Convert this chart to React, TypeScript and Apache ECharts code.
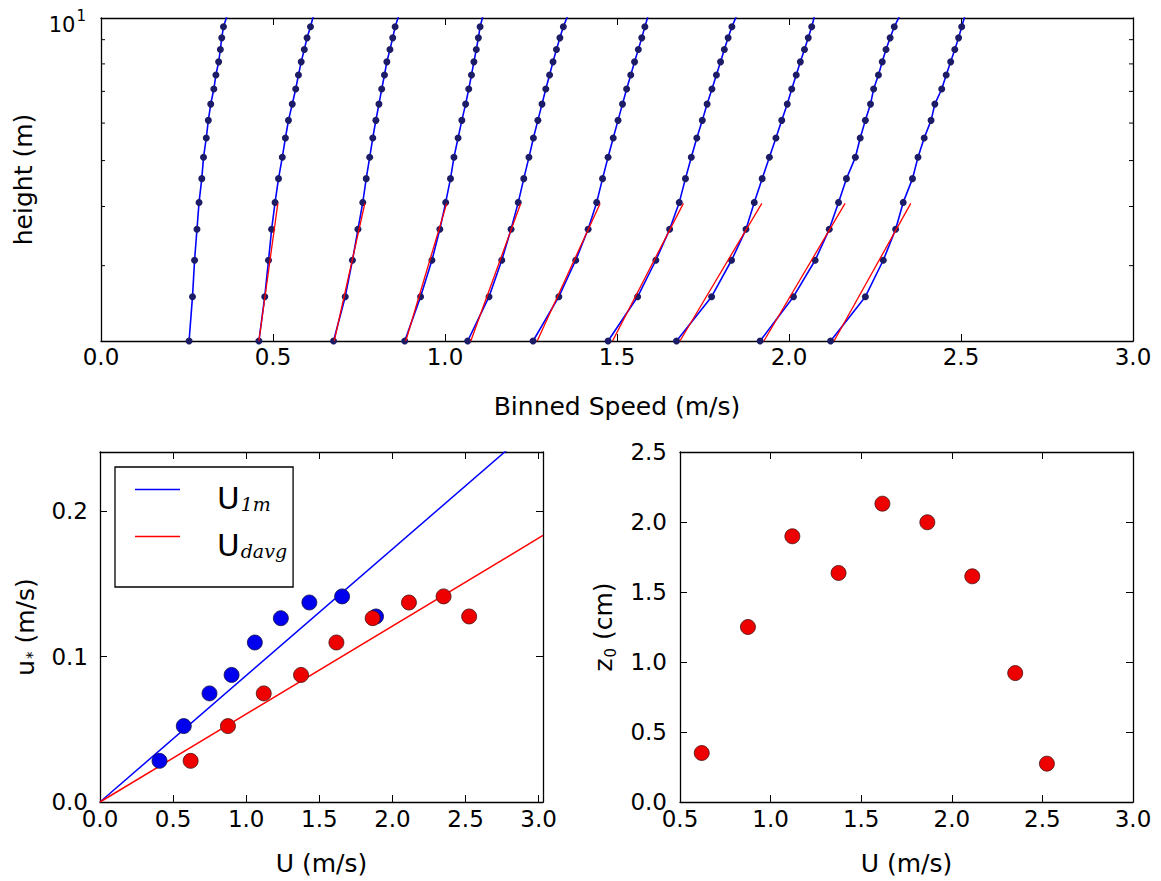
import React, { useEffect, useRef } from 'react';
import * as echarts from 'echarts';

// ---------- top panel: binned speed profiles ----------
const heights = [2.08, 2.58, 3.08, 3.58, 4.08, 4.58, 5.08, 5.58, 6.08, 6.58, 7.08, 7.58, 8.08, 8.58, 9.08, 9.58, 10.08];
const profile1 = [0.256, 0.266, 0.272, 0.279, 0.285, 0.293, 0.298, 0.306, 0.312, 0.319, 0.328, 0.334, 0.342, 0.347, 0.351, 0.356, 0.366];
const profile2 = [0.459, 0.476, 0.487, 0.496, 0.506, 0.516, 0.527, 0.536, 0.545, 0.556, 0.566, 0.574, 0.582, 0.591, 0.599, 0.609, 0.617];
const profile3 = [0.676, 0.710, 0.731, 0.747, 0.761, 0.771, 0.781, 0.790, 0.799, 0.808, 0.816, 0.824, 0.831, 0.840, 0.848, 0.855, 0.865];
const profile4 = [0.883, 0.929, 0.962, 0.985, 1.002, 1.016, 1.026, 1.038, 1.049, 1.060, 1.069, 1.077, 1.084, 1.091, 1.097, 1.102, 1.110];
const profile5 = [1.066, 1.128, 1.165, 1.192, 1.213, 1.229, 1.244, 1.257, 1.270, 1.282, 1.293, 1.304, 1.314, 1.324, 1.334, 1.344, 1.356];
const profile6 = [1.256, 1.331, 1.380, 1.416, 1.441, 1.458, 1.474, 1.489, 1.503, 1.516, 1.528, 1.540, 1.551, 1.562, 1.572, 1.581, 1.590];
const profile7 = [1.474, 1.560, 1.613, 1.653, 1.681, 1.699, 1.716, 1.732, 1.748, 1.762, 1.776, 1.789, 1.801, 1.812, 1.823, 1.834, 1.847];
const profile8 = [1.673, 1.775, 1.833, 1.875, 1.899, 1.922, 1.943, 1.962, 1.979, 1.995, 2.008, 2.021, 2.033, 2.045, 2.056, 2.066, 2.074];
const profile9 = [1.916, 2.013, 2.076, 2.117, 2.144, 2.167, 2.193, 2.207, 2.222, 2.237, 2.246, 2.260, 2.271, 2.282, 2.294, 2.306, 2.321];
const profile10 = [2.121, 2.222, 2.274, 2.310, 2.332, 2.359, 2.375, 2.393, 2.413, 2.424, 2.444, 2.457, 2.470, 2.482, 2.493, 2.502, 2.511];
const profiles = [profile1, profile2, profile3, profile4, profile5, profile6, profile7, profile8, profile9, profile10];

// log-law fits (profiles 2..10), straight lines between two heights
const fitHeights = [2.08, 4.06];
const fitStartSpeeds = [0.459, 0.678, 0.886, 1.075, 1.268, 1.487, 1.683, 1.927, 2.131];
const fitEndSpeeds = [0.514, 0.767, 1.005, 1.220, 1.451, 1.693, 1.921, 2.163, 2.354];

const heightMinorTicks = [3, 4, 5, 6, 7, 8, 9];

// ---------- bottom panels ----------
const uDepthAvg = [0.62, 0.875, 1.12, 1.375, 1.617, 1.865, 2.113, 2.35, 2.525];
const u1m = [0.407, 0.573, 0.749, 0.9, 1.059, 1.237, 1.432, 1.656, 1.888];
const uStar = [0.0283, 0.0522, 0.0747, 0.0874, 0.1097, 0.1264, 0.1372, 0.1414, 0.1276];
const z0cm = [0.35, 1.25, 1.898, 1.636, 2.131, 1.998, 1.612, 0.921, 0.274];

const fit1mU = [0, 2.8];
const fit1mUstar = [0, 0.2435];
const fitDavgU = [0, 3.03];
const fitDavgUstar = [0, 0.1833];

const FONT = 'DejaVu Sans';
const TXT = '#000';

const fmtStep = (step: number, digits: number) => (v: number) => {
  const k = Math.round(v / step);
  return Math.abs(v - k * step) < 1e-6 ? v.toFixed(digits) : '';
};

const frameLine = { show: true, onZero: false, lineStyle: { color: '#000', width: 1.3 } };
const tickIn = (len: number) => ({ show: true, inside: true, length: len, lineStyle: { color: '#000', width: 1 } });
const labelStyle = { fontSize: 23, fontFamily: FONT, color: TXT };
const nameStyle = { fontSize: 25, fontFamily: FONT, color: TXT };

export default function App() {
  const ref = useRef<HTMLDivElement>(null);

  useEffect(() => {
    if (!ref.current) return;
    const chart = echarts.init(ref.current, null, { renderer: 'svg' });

    const grids = [
      { left: 101, top: 18, right: 28, bottom: 540, outerBoundsMode: 'none' },
      { left: 100, top: 452, right: 618, bottom: 79, outerBoundsMode: 'none' },
      { left: 680, top: 452, right: 28, bottom: 79, outerBoundsMode: 'none' },
    ];

    const xAxis: any[] = [
      // grid 0
      {
        type: 'value', gridIndex: 0, min: 0, max: 3, interval: 0.5, position: 'bottom',
        axisLine: frameLine, axisTick: tickIn(7), splitLine: { show: false },
        axisLabel: { ...labelStyle, margin: 4, formatter: fmtStep(0.5, 1) },
        name: 'Binned Speed (m/s)', nameLocation: 'middle', nameGap: 53, nameTextStyle: nameStyle,
      },
      {
        type: 'value', gridIndex: 0, min: 0, max: 3, interval: 0.5, position: 'top',
        axisLine: frameLine, axisTick: tickIn(7), splitLine: { show: false }, axisLabel: { show: false },
      },
      // grid 1
      {
        type: 'value', gridIndex: 1, min: 0, max: 3.03, interval: 0.5, position: 'bottom',
        axisLine: frameLine, axisTick: tickIn(7), splitLine: { show: false },
        axisLabel: { ...labelStyle, margin: 5, formatter: fmtStep(0.5, 1) },
        name: 'U (m/s)', nameLocation: 'middle', nameGap: 49, nameTextStyle: nameStyle,
      },
      {
        type: 'value', gridIndex: 1, min: 0, max: 3.03, interval: 0.5, position: 'top',
        axisLine: frameLine, axisTick: tickIn(7), splitLine: { show: false }, axisLabel: { show: false },
      },
      // grid 2
      {
        type: 'value', gridIndex: 2, min: 0.5, max: 3, interval: 0.5, position: 'bottom',
        axisLine: frameLine, axisTick: tickIn(7), splitLine: { show: false },
        axisLabel: { ...labelStyle, margin: 5, formatter: fmtStep(0.5, 1) },
        name: 'U (m/s)', nameLocation: 'middle', nameGap: 49, nameTextStyle: nameStyle,
      },
      {
        type: 'value', gridIndex: 2, min: 0.5, max: 3, interval: 0.5, position: 'top',
        axisLine: frameLine, axisTick: tickIn(7), splitLine: { show: false }, axisLabel: { show: false },
      },
    ];

    const yAxis: any[] = [
      // grid 0 (log)
      {
        type: 'log', logBase: 10, gridIndex: 0, min: 2.08, max: 10, position: 'left',
        axisLine: frameLine, axisTick: { show: false }, splitLine: { show: false },
        axisLabel: {
          margin: 15,
          formatter: (v: number) => (Math.abs(v - 10) < 0.01 ? '{b|10}{s|1}' : ''),
          rich: {
            b: { fontSize: 21, fontFamily: FONT, color: TXT, verticalAlign: 'bottom' },
            s: { fontSize: 15, fontFamily: FONT, color: TXT, verticalAlign: 'bottom', padding: [8, 0, 12, 1] },
          },
        },
        name: 'height (m)', nameLocation: 'middle', nameGap: 65, nameRotate: 90, nameTextStyle: nameStyle,
      },
      {
        type: 'log', logBase: 10, gridIndex: 0, min: 2.08, max: 10, position: 'right',
        axisLine: frameLine, axisTick: { show: false }, splitLine: { show: false }, axisLabel: { show: false },
      },
      // grid 1
      {
        type: 'value', gridIndex: 1, min: 0, max: 0.2407, interval: 0.1, position: 'left',
        axisLine: frameLine, axisTick: tickIn(7), splitLine: { show: false },
        axisLabel: { ...labelStyle, margin: 12, formatter: fmtStep(0.1, 1) },
        name: '{a|u}{b|*}{a| (m/s)}', nameLocation: 'middle', nameGap: 60, nameRotate: 90,
        nameTextStyle: {
          ...nameStyle,
          rich: {
            a: { fontSize: 25, fontFamily: FONT, color: TXT, verticalAlign: 'top' },
            b: { fontSize: 15, fontFamily: FONT, color: TXT, verticalAlign: 'top', padding: [12, 0, 0, 1] },
          },
        },
      },
      {
        type: 'value', gridIndex: 1, min: 0, max: 0.2407, interval: 0.1, position: 'right',
        axisLine: frameLine, axisTick: tickIn(7), splitLine: { show: false }, axisLabel: { show: false },
      },
      // grid 2
      {
        type: 'value', gridIndex: 2, min: 0, max: 2.5, interval: 0.5, position: 'left',
        axisLine: frameLine, axisTick: tickIn(7), splitLine: { show: false },
        axisLabel: { ...labelStyle, margin: 13, formatter: fmtStep(0.5, 1) },
        name: '{a|z}{b|0}{a| (cm)}', nameLocation: 'middle', nameGap: 62, nameRotate: 90,
        nameTextStyle: {
          ...nameStyle,
          rich: {
            a: { fontSize: 25, fontFamily: FONT, color: TXT, verticalAlign: 'top' },
            b: { fontSize: 15, fontFamily: FONT, color: TXT, verticalAlign: 'top', padding: [12, 0, 0, 1] },
          },
        },
      },
      {
        type: 'value', gridIndex: 2, min: 0, max: 2.5, interval: 0.5, position: 'right',
        axisLine: frameLine, axisTick: tickIn(7), splitLine: { show: false }, axisLabel: { show: false },
      },
    ];

    const series: any[] = [];
    profiles.forEach((p, i) => {
      series.push({
        name: 'profile ' + (i + 1), type: 'line', xAxisIndex: 0, yAxisIndex: 0,
        data: heights.map((h, j) => [p[j], h]),
        symbol: 'circle', symbolSize: 7, showSymbol: true, clip: true,
        itemStyle: { color: '#1b1b66' },
        lineStyle: { color: '#0000ff', width: 1.6 }, z: 2,
      });
    });
    fitStartSpeeds.forEach((s, i) => {
      series.push({
        name: 'log fit ' + (i + 2), type: 'line', xAxisIndex: 0, yAxisIndex: 0,
        data: fitHeights.map((h, j) => [j === 0 ? s : fitEndSpeeds[i], h]),
        symbol: 'none', clip: true,
        lineStyle: { color: '#ff0000', width: 1.3 }, z: 3,
      });
    });
    // minor ticks of log axis (both sides)
    series.push({
      type: 'custom', xAxisIndex: 0, yAxisIndex: 0, silent: true, z: 5,
      data: heightMinorTicks.map((v) => [0, v]),
      encode: { x: 0, y: 1 },
      renderItem: (_p: any, api: any) => {
        const v = api.value(1);
        const l = api.coord([0, v]);
        const r = api.coord([3, v]);
        return {
          type: 'group',
          children: [
            { type: 'line', shape: { x1: l[0], y1: l[1], x2: l[0] + 4, y2: l[1] }, style: { stroke: '#000', lineWidth: 1 } },
            { type: 'line', shape: { x1: r[0] - 4, y1: r[1], x2: r[0], y2: r[1] }, style: { stroke: '#000', lineWidth: 1 } },
          ],
        };
      },
    });

    // bottom-left
    series.push({
      name: 'U1m', type: 'line', xAxisIndex: 2, yAxisIndex: 2,
      data: fit1mU.map((u, j) => [u, fit1mUstar[j]]), symbol: 'none', clip: true,
      lineStyle: { color: '#0000ff', width: 1.5 }, itemStyle: { color: '#0000ff' }, z: 2,
    });
    series.push({
      name: 'Udavg', type: 'line', xAxisIndex: 2, yAxisIndex: 2,
      data: fitDavgU.map((u, j) => [u, fitDavgUstar[j]]), symbol: 'none', clip: true,
      lineStyle: { color: '#ff0000', width: 1.5 }, itemStyle: { color: '#ff0000' }, z: 2,
    });
    series.push({
      name: 'u* vs U1m', type: 'scatter', xAxisIndex: 2, yAxisIndex: 2,
      data: u1m.map((u, j) => [u, uStar[j]]), symbolSize: 15,
      itemStyle: { color: '#0000ee', borderColor: '#111144', borderWidth: 0.8, opacity: 1 }, z: 3,
    });
    series.push({
      name: 'u* vs Udavg', type: 'scatter', xAxisIndex: 2, yAxisIndex: 2,
      data: uDepthAvg.map((u, j) => [u, uStar[j]]), symbolSize: 15,
      itemStyle: { color: '#ee0000', borderColor: '#441111', borderWidth: 0.8, opacity: 1 }, z: 4,
    });

    // bottom-right
    series.push({
      name: 'z0', type: 'scatter', xAxisIndex: 4, yAxisIndex: 4,
      data: uDepthAvg.map((u, j) => [u, z0cm[j]]), symbolSize: 15,
      itemStyle: { color: '#ee0000', borderColor: '#441111', borderWidth: 0.8, opacity: 1 }, z: 3,
    });

    const option: any = {
      animation: false,
      backgroundColor: '#fff',
      grid: grids,
      xAxis,
      yAxis,
      legend: {
        data: ['U1m', 'Udavg'],
        orient: 'vertical',
        left: 115, top: 467,
        padding: [15, 6, 26, 20],
        itemGap: 15,
        icon: 'rect',
        itemWidth: 45, itemHeight: 1.6,
        borderColor: '#000', borderWidth: 1.3, borderRadius: 0,
        backgroundColor: '#fff',
        selectedMode: false,
        formatter: (name: string) => (name === 'U1m' ? '{g| }{u|U}{s|1m}' : '{g| }{u|U}{s|davg}'),
        textStyle: {
          rich: {
            g: { width: 32, fontSize: 10 },
            u: { fontSize: 31, fontFamily: FONT, color: TXT, verticalAlign: 'top', padding: [17, 0, 0, 0] },
            s: { fontSize: 19, fontFamily: 'DejaVu Serif', fontStyle: 'italic', color: TXT, verticalAlign: 'top', padding: [30, 0, 0, 1] },
          },
        },
      },
      series,
    };
    chart.setOption(option);
    return () => chart.dispose();
  }, []);

  return (
    <div
      ref={ref}
      style={{ position: 'absolute', left: 0, top: 0, width: '1161px', height: '881px', background: '#fff' }}
    />
  );
}
